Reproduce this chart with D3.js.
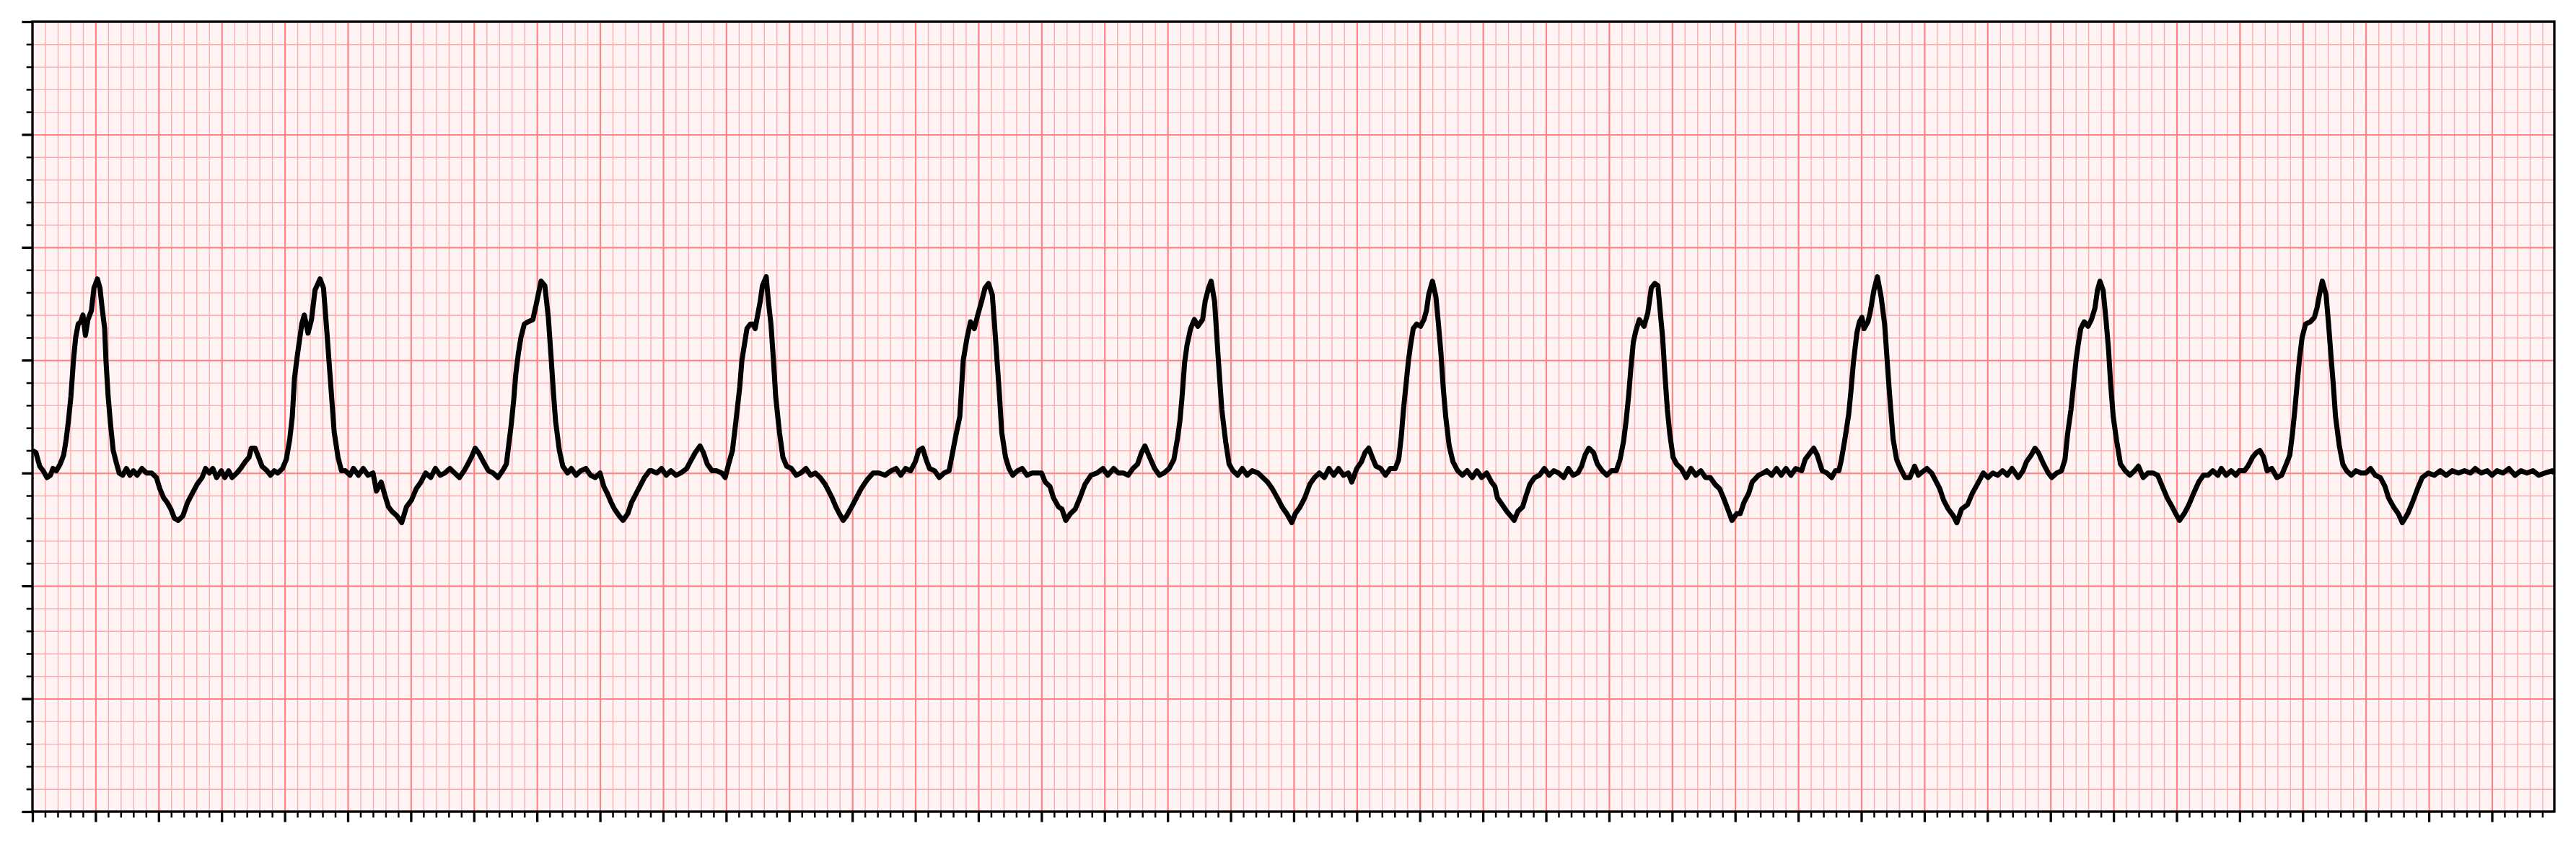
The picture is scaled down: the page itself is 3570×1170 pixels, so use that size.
<!DOCTYPE html>
<html>
<head>
<meta charset="utf-8">
<script src="https://cdn.jsdelivr.net/npm/d3@7/dist/d3.min.js"></script>
<style>
  html, body { margin: 0; padding: 0; background: #ffffff; }
  svg { display: block; }
</style>
</head>
<body>
<svg id="chart" width="3570" height="1170"></svg>
<script>
// ---- Data: ECG trace, [time (s), voltage (mV)] ----
const strip1 = [[0.000,0.10],[0.011,0.09],[0.023,0.03],[0.034,0.01],[0.046,-0.02],[0.057,-0.01],[0.065,0.02],[0.076,0.01],[0.088,0.04],[0.099,0.08],[0.107,0.15],[0.114,0.23],[0.122,0.34],[0.130,0.50],[0.137,0.60],[0.145,0.66],[0.153,0.67],[0.160,0.70],[0.168,0.61],[0.176,0.68],[0.187,0.72],[0.195,0.82],[0.206,0.86],[0.214,0.82],[0.221,0.73],[0.229,0.64],[0.233,0.50],[0.240,0.34],[0.248,0.21],[0.256,0.10],[0.267,0.04],[0.275,0.00],[0.286,-0.01],[0.298,0.02],[0.309,-0.01],[0.320,0.01],[0.332,-0.01],[0.347,0.02],[0.362,0.00],[0.378,0.00],[0.393,-0.02],[0.404,-0.07],[0.416,-0.11],[0.427,-0.13],[0.439,-0.16],[0.450,-0.20],[0.462,-0.21],[0.477,-0.19],[0.492,-0.13],[0.507,-0.09],[0.522,-0.05],[0.538,-0.02],[0.549,0.02],[0.561,0.00],[0.572,0.02],[0.584,-0.02],[0.599,0.01],[0.610,-0.02],[0.622,0.01],[0.633,-0.02],[0.648,0.00],[0.660,0.02],[0.675,0.05],[0.687,0.07],[0.694,0.11],[0.706,0.11],[0.717,0.07],[0.728,0.03],[0.744,0.01],[0.755,-0.01],[0.767,0.01],[0.778,0.00],[0.793,0.02],[0.805,0.06],[0.816,0.15],[0.824,0.25],[0.831,0.42],[0.839,0.51],[0.847,0.59],[0.854,0.66],[0.862,0.70],[0.874,0.62],[0.885,0.68],[0.896,0.81],[0.912,0.86],[0.923,0.82],[0.934,0.62],[0.946,0.39],[0.957,0.18],[0.969,0.07],[0.980,0.01],[0.992,0.01],[1.007,-0.01],[1.018,0.02],[1.034,-0.01],[1.049,0.02],[1.064,-0.01],[1.080,0.00],[1.091,-0.08],[1.106,-0.04],[1.118,-0.10],[1.129,-0.15],[1.140,-0.17],[1.156,-0.19],[1.171,-0.22],[1.186,-0.15],[1.202,-0.12],[1.217,-0.07],[1.232,-0.04],[1.247,0.00],[1.263,-0.02],[1.278,0.02],[1.293,-0.01],[1.308,0.00],[1.324,0.02],[1.339,0.00],[1.354,-0.02],[1.369,0.01],[1.381,0.04],[1.392,0.07],[1.404,0.11],[1.415,0.09],[1.430,0.05],[1.446,0.01],[1.461,0.00],[1.476,-0.02],[1.491,0.01],[1.503,0.04],[1.510,0.12],[1.518,0.21],[1.526,0.32],[1.533,0.44],[1.541,0.53],[1.549,0.60],[1.560,0.66],[1.572,0.67],[1.587,0.68],[1.598,0.75],[1.613,0.85],[1.625,0.83],[1.636,0.69],[1.644,0.53],[1.652,0.36],[1.659,0.23],[1.671,0.10],[1.682,0.03],[1.697,0.00],[1.709,0.02],[1.724,-0.01],[1.739,0.01],[1.755,0.02],[1.770,-0.01],[1.785,-0.02],[1.800,0.00],[1.812,-0.06],[1.823,-0.09],[1.835,-0.13],[1.846,-0.16],[1.861,-0.19],[1.873,-0.21],[1.888,-0.18],[1.900,-0.13],[1.915,-0.09],[1.926,-0.06],[1.941,-0.02],[1.957,0.01],[1.964,0.01],[1.980,0.00],[1.995,0.02]];
const strip2 = [[2.010,-0.01],[2.025,0.01],[2.041,-0.01],[2.056,0.00],[2.075,0.02],[2.090,0.06],[2.102,0.09],[2.117,0.12],[2.128,0.09],[2.140,0.04],[2.155,0.01],[2.170,0.01],[2.186,0.00],[2.197,-0.02],[2.208,0.04],[2.220,0.10],[2.231,0.23],[2.243,0.38],[2.250,0.50],[2.258,0.57],[2.266,0.64],[2.277,0.66],[2.285,0.66],[2.292,0.64],[2.300,0.70],[2.308,0.76],[2.315,0.83],[2.327,0.87],[2.334,0.76],[2.342,0.66],[2.350,0.50],[2.357,0.34],[2.369,0.18],[2.380,0.07],[2.392,0.03],[2.407,0.02],[2.422,-0.01],[2.437,0.00],[2.453,0.02],[2.468,-0.01],[2.483,0.00],[2.498,-0.02],[2.514,-0.05],[2.525,-0.08],[2.536,-0.11],[2.548,-0.15],[2.559,-0.18],[2.571,-0.21],[2.582,-0.19],[2.598,-0.15],[2.613,-0.11],[2.628,-0.07],[2.647,-0.03],[2.666,0.00],[2.685,0.00],[2.704,-0.01],[2.723,0.01],[2.739,0.02],[2.754,-0.01],[2.769,0.02],[2.785,0.01],[2.800,0.05],[2.811,0.10],[2.823,0.11],[2.834,0.06],[2.845,0.02],[2.861,0.01],[2.876,-0.02],[2.891,0.00],[2.907,0.01],[2.918,0.09],[2.929,0.17],[2.941,0.25],[2.952,0.50],[2.964,0.60],[2.975,0.67],[2.987,0.64],[2.998,0.70],[3.010,0.76],[3.021,0.82],[3.032,0.84],[3.044,0.79],[3.051,0.66],[3.059,0.50],[3.067,0.34],[3.074,0.18],[3.086,0.07],[3.097,0.02],[3.109,-0.01],[3.124,0.01],[3.139,0.02],[3.154,-0.01],[3.170,0.00],[3.185,0.00],[3.200,0.00],[3.212,-0.04],[3.227,-0.06],[3.238,-0.11],[3.254,-0.15],[3.265,-0.16],[3.277,-0.21],[3.292,-0.18],[3.307,-0.16],[3.322,-0.11],[3.338,-0.05],[3.357,-0.01],[3.376,0.00],[3.395,0.02],[3.410,-0.01],[3.429,0.02],[3.444,0.00],[3.460,0.00],[3.475,-0.01],[3.490,0.02],[3.505,0.04],[3.517,0.09],[3.528,0.12],[3.543,0.07],[3.559,0.02],[3.574,-0.01],[3.589,0.00],[3.605,0.02],[3.620,0.06],[3.631,0.15],[3.639,0.23],[3.646,0.34],[3.654,0.49],[3.662,0.57],[3.673,0.64],[3.685,0.68],[3.696,0.65],[3.711,0.68],[3.719,0.76],[3.730,0.82],[3.738,0.85],[3.749,0.76],[3.761,0.50],[3.772,0.28],[3.784,0.14],[3.795,0.04],[3.807,0.01],[3.822,-0.01],[3.837,0.02],[3.852,-0.01],[3.868,0.01],[3.887,0.00],[3.902,-0.02],[3.917,-0.04],[3.932,-0.07],[3.948,-0.11],[3.963,-0.15],[3.978,-0.18],[3.994,-0.22]];
const strip3 = [[4.005,-0.18],[4.020,-0.15],[4.035,-0.11],[4.051,-0.05],[4.066,-0.02],[4.081,0.00],[4.097,-0.02],[4.112,0.02],[4.127,-0.01],[4.142,0.02],[4.158,-0.01],[4.173,0.00],[4.184,-0.04],[4.200,0.02],[4.215,0.05],[4.226,0.09],[4.238,0.11],[4.249,0.07],[4.261,0.03],[4.276,0.02],[4.291,-0.01],[4.306,0.02],[4.322,0.02],[4.333,0.06],[4.341,0.16],[4.348,0.28],[4.356,0.39],[4.364,0.50],[4.371,0.57],[4.379,0.64],[4.390,0.66],[4.402,0.65],[4.413,0.68],[4.421,0.72],[4.428,0.79],[4.440,0.85],[4.451,0.78],[4.459,0.66],[4.467,0.53],[4.474,0.38],[4.482,0.25],[4.493,0.12],[4.505,0.05],[4.520,0.01],[4.535,-0.01],[4.550,0.01],[4.566,-0.02],[4.581,0.01],[4.596,-0.02],[4.612,0.00],[4.627,-0.04],[4.638,-0.06],[4.646,-0.11],[4.661,-0.14],[4.676,-0.17],[4.688,-0.19],[4.699,-0.21],[4.711,-0.17],[4.726,-0.15],[4.737,-0.10],[4.749,-0.05],[4.764,-0.02],[4.779,-0.01],[4.795,0.02],[4.810,-0.01],[4.825,0.01],[4.840,0.00],[4.856,-0.02],[4.871,0.02],[4.886,-0.01],[4.901,0.00],[4.913,0.03],[4.924,0.08],[4.936,0.11],[4.951,0.09],[4.963,0.04],[4.978,0.01],[4.993,-0.01],[5.008,0.01],[5.023,0.01],[5.035,0.06],[5.046,0.14],[5.054,0.23],[5.062,0.34],[5.069,0.46],[5.077,0.58],[5.085,0.63],[5.096,0.68],[5.111,0.65],[5.123,0.71],[5.134,0.82],[5.145,0.84],[5.155,0.83],[5.162,0.72],[5.170,0.60],[5.177,0.44],[5.185,0.28],[5.193,0.17],[5.203,0.07],[5.214,0.04],[5.229,0.02],[5.245,-0.02],[5.260,0.02],[5.275,-0.01],[5.291,0.01],[5.306,-0.02],[5.321,-0.02],[5.336,-0.05],[5.351,-0.07],[5.363,-0.11],[5.374,-0.15],[5.390,-0.21],[5.405,-0.18],[5.416,-0.18],[5.428,-0.13],[5.443,-0.09],[5.454,-0.04],[5.474,-0.01],[5.489,0.00],[5.500,0.01],[5.516,-0.01],[5.531,0.02],[5.546,-0.01],[5.561,0.02],[5.577,-0.01],[5.592,0.02],[5.611,0.01],[5.622,0.06],[5.638,0.09],[5.649,0.11],[5.660,0.08],[5.676,0.01],[5.691,0.00],[5.706,-0.02],[5.718,0.01],[5.729,0.01],[5.737,0.06],[5.748,0.15],[5.760,0.26],[5.767,0.36],[5.775,0.49],[5.786,0.62],[5.794,0.67],[5.802,0.69],[5.809,0.64],[5.821,0.67],[5.828,0.71],[5.840,0.81],[5.851,0.87],[5.863,0.78],[5.874,0.66],[5.882,0.50],[5.889,0.36],[5.901,0.15],[5.912,0.06],[5.924,0.02],[5.939,-0.02],[5.954,-0.02],[5.969,0.03],[5.981,-0.01],[5.989,0.00]];
const strip4 = [[6.008,0.02],[6.023,0.00],[6.038,-0.04],[6.049,-0.07],[6.061,-0.12],[6.076,-0.16],[6.092,-0.19],[6.103,-0.22],[6.118,-0.16],[6.137,-0.14],[6.152,-0.09],[6.168,-0.05],[6.187,0.00],[6.202,-0.02],[6.217,0.00],[6.233,-0.01],[6.248,0.01],[6.263,-0.01],[6.278,0.02],[6.298,-0.02],[6.313,0.01],[6.324,0.05],[6.339,0.08],[6.351,0.11],[6.362,0.09],[6.378,0.04],[6.393,0.00],[6.404,-0.02],[6.420,0.00],[6.435,0.01],[6.446,0.06],[6.454,0.17],[6.465,0.28],[6.473,0.39],[6.481,0.50],[6.488,0.57],[6.496,0.64],[6.507,0.67],[6.519,0.65],[6.530,0.68],[6.541,0.73],[6.549,0.81],[6.557,0.85],[6.567,0.81],[6.576,0.68],[6.584,0.55],[6.591,0.39],[6.599,0.25],[6.610,0.14],[6.622,0.04],[6.637,0.01],[6.652,-0.01],[6.667,0.01],[6.679,0.03],[6.694,-0.02],[6.709,0.00],[6.725,0.00],[6.740,-0.01],[6.755,-0.06],[6.770,-0.11],[6.786,-0.15],[6.797,-0.18],[6.809,-0.21],[6.824,-0.18],[6.839,-0.14],[6.854,-0.09],[6.870,-0.04],[6.885,-0.01],[6.900,-0.01],[6.915,0.01],[6.931,-0.01],[6.942,0.02],[6.957,-0.01],[6.973,0.01],[6.988,-0.01],[6.999,0.01],[7.015,0.01],[7.026,0.03],[7.041,0.07],[7.053,0.09],[7.064,0.10],[7.076,0.07],[7.087,0.01],[7.102,0.02],[7.118,-0.02],[7.133,-0.01],[7.148,0.04],[7.159,0.08],[7.167,0.17],[7.175,0.28],[7.182,0.39],[7.190,0.51],[7.198,0.60],[7.209,0.66],[7.224,0.67],[7.237,0.69],[7.245,0.73],[7.253,0.79],[7.262,0.85],[7.274,0.79],[7.282,0.66],[7.289,0.53],[7.297,0.39],[7.304,0.25],[7.316,0.12],[7.327,0.04],[7.339,0.01],[7.354,-0.01],[7.369,0.01],[7.385,0.00],[7.400,0.00],[7.415,0.02],[7.430,-0.01],[7.446,-0.02],[7.461,-0.06],[7.472,-0.11],[7.488,-0.15],[7.503,-0.18],[7.516,-0.22],[7.533,-0.18],[7.548,-0.13],[7.564,-0.07],[7.579,-0.02],[7.598,0.00],[7.617,-0.01],[7.636,0.01],[7.655,-0.01],[7.674,0.01],[7.694,0.00],[7.713,0.01],[7.732,0.00],[7.747,0.02],[7.766,0.00],[7.785,0.01],[7.800,-0.01],[7.816,0.01],[7.835,0.00],[7.854,0.02],[7.873,-0.01],[7.892,0.01],[7.911,0.00],[7.930,0.01],[7.949,-0.01],[7.968,0.00],[7.991,0.01],[7.998,0.00]];

// axis ranges and ECG paper grid steps
const xDomain = [0, 7.998];          // seconds
const yDomain = [-1.5, 2.0];         // mV
const xMajorStep = 0.2, xMinorStep = 0.04;
const yMajorStep = 0.5, yMinorStep = 0.1;

// ---- Layout ----
const W = 3570, H = 1170;
const margin = { left: 45, top: 30, right: 30, bottom: 45 };
const plotW = W - margin.left - margin.right;   // 3495
const plotH = H - margin.top - margin.bottom;   // 1095

const svg = d3.select("#chart");
const g = svg.append("g").attr("transform", `translate(${margin.left},${margin.top})`);

const x = d3.scaleLinear().domain(xDomain).range([0, plotW]);
const y = d3.scaleLinear().domain(yDomain).range([plotH, 0]);

const eps = 1e-6;
const xMinor = d3.range(0, Math.floor(xDomain[1] / xMinorStep + eps) + 1).map(i => +(i * xMinorStep).toFixed(4));
const xMajor = d3.range(0, Math.floor(xDomain[1] / xMajorStep + eps) + 1).map(i => +(i * xMajorStep).toFixed(4));
const nYMinor = Math.round((yDomain[1] - yDomain[0]) / yMinorStep);
const nYMajor = Math.round((yDomain[1] - yDomain[0]) / yMajorStep);
const yMinor = d3.range(0, nYMinor + 1).map(i => +(yDomain[0] + i * yMinorStep).toFixed(4));
const yMajor = d3.range(0, nYMajor + 1).map(i => +(yDomain[0] + i * yMajorStep).toFixed(4));
const isMajor = (v, step) => Math.abs(v / step - Math.round(v / step)) < 1e-6;
const xMinorOnly = xMinor.filter(v => !isMajor(v, xMajorStep));
const yMinorOnly = yMinor.filter(v => !isMajor(v, yMajorStep));

// background
g.append("rect").attr("width", plotW).attr("height", plotH).attr("fill", "#fff3f3");

// minor grid
const minorColor = "#ffaaaa", majorColor = "#ff8383";
g.append("g").attr("transform", `translate(0,${plotH})`)
  .call(d3.axisBottom(x).tickValues(xMinor).tickSize(-plotH).tickFormat(""))
  .call(a => a.select(".domain").remove())
  .selectAll("line").attr("stroke", minorColor).attr("stroke-width", 1.35);
g.append("g")
  .call(d3.axisLeft(y).tickValues(yMinor).tickSize(-plotW).tickFormat(""))
  .call(a => a.select(".domain").remove())
  .selectAll("line").attr("stroke", minorColor).attr("stroke-width", 1.35);
// major grid
g.append("g").attr("transform", `translate(0,${plotH})`)
  .call(d3.axisBottom(x).tickValues(xMajor).tickSize(-plotH).tickFormat(""))
  .call(a => a.select(".domain").remove())
  .selectAll("line").attr("stroke", majorColor).attr("stroke-width", 2.1);
g.append("g")
  .call(d3.axisLeft(y).tickValues(yMajor).tickSize(-plotW).tickFormat(""))
  .call(a => a.select(".domain").remove())
  .selectAll("line").attr("stroke", majorColor).attr("stroke-width", 2.1);

// ECG line
const clipId = "plotclip";
g.append("clipPath").attr("id", clipId).append("rect").attr("width", plotW).attr("height", plotH);
const trace = strip1.concat(strip2, strip3, strip4);
const line = d3.line().x(d => x(d[0])).y(d => y(d[1]));
g.append("path")
  .datum(trace)
  .attr("clip-path", `url(#${clipId})`)
  .attr("d", line)
  .attr("fill", "none")
  .attr("stroke", "#000000")
  .attr("stroke-width", 7)
  .attr("stroke-linejoin", "round");

// spines
g.append("rect").attr("width", plotW).attr("height", plotH)
  .attr("fill", "none").attr("stroke", "#000").attr("stroke-width", 3.3);

// tick marks (no labels)
function styleTicks(sel, w) {
  sel.select(".domain").remove();
  sel.selectAll("line").attr("stroke", "#000").attr("stroke-width", w);
}
g.append("g").attr("transform", `translate(0,${plotH})`)
  .call(d3.axisBottom(x).tickValues(xMinorOnly).tickSize(8.3).tickFormat(""))
  .call(s => styleTicks(s, 2.5));
g.append("g").attr("transform", `translate(0,${plotH})`)
  .call(d3.axisBottom(x).tickValues(xMajor).tickSize(14.6).tickFormat(""))
  .call(s => styleTicks(s, 3.3));
g.append("g")
  .call(d3.axisLeft(y).tickValues(yMinorOnly).tickSize(8.3).tickFormat(""))
  .call(s => styleTicks(s, 2.5));
g.append("g")
  .call(d3.axisLeft(y).tickValues(yMajor).tickSize(14.6).tickFormat(""))
  .call(s => styleTicks(s, 3.3));
</script>
</body>
</html>
